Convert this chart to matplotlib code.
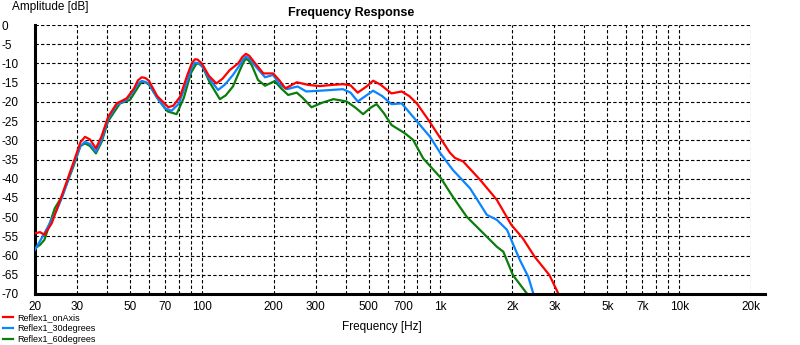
import matplotlib.pyplot as plt
from matplotlib.ticker import FixedLocator, NullLocator

plt.rcParams['font.family'] = ['Liberation Sans', 'DejaVu Sans']

# on axis
f_on = [20, 21, 21.9, 23.5, 26.1, 28.9, 31, 32.4, 34, 36, 38, 40.5, 44, 48.4, 52, 54, 56, 58,
        60, 65, 72.4, 76, 81, 87, 91, 93.7, 96, 100, 107, 115, 122, 131, 142, 148, 153, 158,
        165, 181, 199, 212, 224, 250, 280, 312, 350, 390, 420, 450, 490, 522, 560, 623, 688,
        740, 796, 890, 1000, 1094, 1150, 1244, 1466, 1722, 1980, 2212, 2480, 2862, 3140]
db_on = [-54.2, -53.9, -54.6, -51.6, -43.8, -36, -30.5, -29.1, -29.8, -32.1, -29, -23.9, -20.4,
         -19.1, -16.5, -14.4, -13.6, -13.8, -14.5, -18.5, -21.4, -21, -18.7, -13, -9.8, -8.9,
         -9.0, -10, -13.2, -15.2, -14, -11.7, -10, -8.3, -7.5, -8.0, -9.5, -12.6, -12.6, -14.5,
         -16.5, -14.9, -15.6, -15.9, -15.6, -15.4, -15.7, -17.6, -16, -14.5, -15.5, -17.8,
         -17.3, -18.5, -20.4, -24.7, -29.5, -33.2, -34.6, -35.5, -40.3, -45.5, -52.0, -55.5,
         -60.3, -65.1, -70.3]

# 30 degrees
f_30 = [20, 21.9, 24.7, 26.1, 28.9, 31, 32.4, 34, 36, 38, 40.5, 44, 48.4, 52, 54, 56, 58, 60,
        65, 70, 74.8, 80, 87, 91, 93.7, 96, 100, 107, 117, 125, 135, 144, 149, 153, 158, 165,
        184, 199, 212, 227, 252, 274, 312, 350, 390, 420, 450, 485, 522, 570, 623, 688, 768,
        904, 1000, 1126, 1330, 1564, 1722, 1900, 2152, 2332, 2460]
db_30 = [-58.5, -54.2, -48.1, -44.5, -36.5, -31.5, -30.4, -31, -33.0, -30, -24.5, -20.8, -19.5,
         -17, -15.2, -14.6, -14.8, -15.3, -19, -21.7, -22.3, -20.5, -14.5, -10.8, -9.8, -9.9,
         -10.5, -13.8, -16.9, -15.5, -13.0, -10.5, -9.0, -8.2, -8.7, -10.2, -13.6, -13.0,
         -15.5, -16.7, -16.0, -17.3, -17.1, -16.9, -16.7, -17.6, -19.9, -18.5, -17.1, -18.5,
         -20.6, -20.4, -23.9, -29.1, -33.4, -37.7, -42.5, -49.4, -50.7, -53.3, -61.2, -65.5,
         -70.3]

# 60 degrees
f_60 = [20, 21, 21.9, 24.2, 25.9, 28.9, 31, 32.4, 34, 36, 38, 40.5, 45.4, 50, 53, 56, 58, 60,
        66, 72, 78.4, 84, 90, 95, 98, 101, 108, 119, 126, 135, 145, 150, 153, 157, 162, 172,
        184, 202, 215, 230, 250, 265, 288, 320, 356, 404, 440, 474, 510, 540, 580, 623, 710,
        768, 846, 1000, 1126, 1288, 1512, 1722, 1834, 2012, 2296]
db_60 = [-58.1, -57.2, -55.9, -47.7, -44.7, -37, -31.5, -30.8, -31.5, -33.4, -30.5, -25, -20.4,
         -19.5, -17, -14.7, -14.9, -15.5, -19.5, -22.5, -23.2, -19, -12.5, -10.0, -10.2, -11,
         -15, -19.3, -18.3, -16.0, -11.5, -9.5, -8.8, -9.2, -10.5, -14.3, -15.8, -14.6, -16.5,
         -18.2, -17.6, -19, -21.4, -20.2, -19.3, -19.9, -21.5, -23.2, -21.5, -20.6, -23, -26.0,
         -28.2, -29.9, -34.7, -39.7, -44.7, -49.9, -54.2, -57.7, -59.0, -65.1, -69.8]

grid_x = [20, 30, 40, 50, 60, 70, 80, 90, 100, 200, 300, 400, 500, 600, 700, 800, 900,
          1000, 2000, 3000, 4000, 5000, 6000, 7000, 8000, 9000, 10000, 20000]
label_x = [20, 30, 50, 70, 100, 200, 300, 500, 700, 1000, 2000, 3000, 5000, 7000, 10000, 20000]
label_txt = ['20', '30', '50', '70', '100', '200', '300', '500', '700', '1k', '2k', '3k',
             '5k', '7k', '10k', '20k']
y_ticks = list(range(0, -75, -5))

fig = plt.figure(figsize=(8, 3.45), dpi=100)
ax = fig.add_axes([35 / 800, 1 - 294 / 345, 716 / 800, 269 / 345])

ax.plot(f_on, db_on, color='#ff0000', lw=1.6, label='Reflex1_onAxis', zorder=5)
ax.plot(f_30, db_30, color='#0a84ff', lw=1.6, label='Reflex1_30degrees', zorder=4)
ax.plot(f_60, db_60, color='#0a7d0a', lw=1.6, label='Reflex1_60degrees', zorder=3)

ax.set_xscale('log')
ax.set_xlim(20, 20000)
ax.set_ylim(-70, 0)

ax.xaxis.set_major_locator(FixedLocator(label_x))
ax.xaxis.set_minor_locator(NullLocator())
ax.set_xticklabels(label_txt)
ax.set_yticks(y_ticks)
ax.set_yticklabels([str(v) for v in y_ticks])

for gx in grid_x:
    ax.axvline(gx, color='black', lw=0.8, ls=(0, (3, 2)), zorder=1)
for gy in y_ticks:
    ax.axhline(gy, color='black', lw=0.8, ls=(0, (3, 2)), zorder=1)

ax.tick_params(axis='both', length=0, labelsize=8.5)
ax.tick_params(axis='x', pad=5)
ax.tick_params(axis='y', pad=24)
for t in ax.get_yticklabels():
    t.set_horizontalalignment('left')

for s in ['top', 'right']:
    ax.spines[s].set_visible(False)
ax.spines['left'].set_linewidth(2.2)
ax.spines['bottom'].set_visible(False)
ax.plot([0, 1.02], [0, 0], transform=ax.transAxes, color='black', lw=2.2,
        clip_on=False, zorder=6)

fig.text(351 / 800, 1 - 13 / 345, 'Frequency Response', ha='center', va='center',
         fontsize=9, fontweight='bold')
fig.text(12 / 800, 1 - 7 / 345, 'Amplitude [dB]', ha='left', va='center', fontsize=8.5)
fig.text(382 / 800, 1 - 327 / 345, 'Frequency [Hz]', ha='center', va='center', fontsize=8.5)

fig.legend(loc='upper left', bbox_to_anchor=(3 / 800, 1 - 313 / 345), frameon=False,
           fontsize=6.5, handlelength=1.1, handletextpad=0.5, labelspacing=0.22,
           borderaxespad=0, borderpad=0)

fig.savefig('out.png', dpi=100)
